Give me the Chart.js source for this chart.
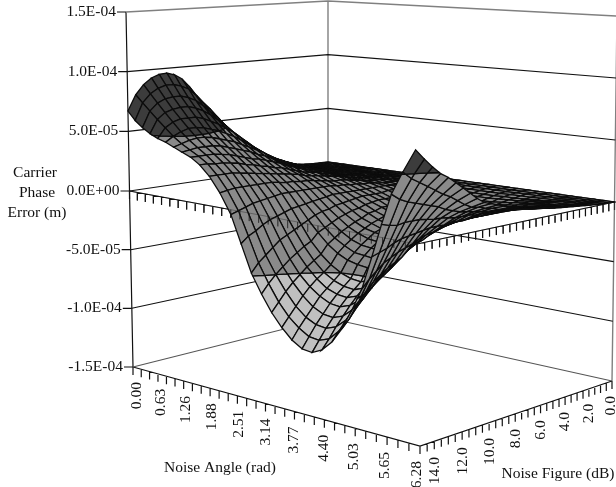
<!DOCTYPE html>
<html>
<head>
<meta charset="utf-8">
<title>Carrier Phase Error</title>
<script src="https://cdn.jsdelivr.net/npm/chart.js@4"></script>
<style>
  html, body { margin: 0; padding: 0; background: #fff; }
  #wrap { width: 616px; height: 487px; }
</style>
</head>
<body>
<div id="wrap"><canvas id="surfaceChart" width="616" height="487"></canvas></div>
<script>
// tick labels
const angleLabels = ['0.00', '0.63', '1.26', '1.88', '2.51', '3.14', '3.77', '4.40', '5.03', '5.65', '6.28'];
const figureLabels = ['0.0', '2.0', '4.0', '6.0', '8.0', '10.0', '12.0', '14.0'];
const errorLabels = ['1.5E-04', '1.0E-04', '5.0E-05', '0.0E+00', '-5.0E-05', '-1.0E-04', '-1.5E-04'];
const errorLevels = [15, 10, 5, 0, -5, -10, -15];

// carrier phase error in units of 1E-05 m
// one row per noise figure step (0 dB first, 14 dB last), 31 values along noise angle
const phaseError = [
  [0,0,0,0,0,0,0,0,0,0,0,0,0,0,0,0,0,0,0,0,0,0,0,0,0,0,0,0,0,0,0],
  [.02,.02,.02,.02,.02,.02,.02,.02,.02,.02,.01,.01,.01,0,-.01,-.02,-.02,-.03,-.03,-.04,-.04,-.04,-.03,-.03,-.02,-.02,-.01,.01,.02,.02,.03],
  [.04,.04,.04,.04,.04,.04,.04,.04,.04,.03,.03,.03,.02,0,-.02,-.03,-.05,-.06,-.08,-.08,-.08,-.08,-.06,-.05,-.05,-.03,-.02,.02,.03,.05,.06],
  [.07,.07,.07,.07,.07,.07,.07,.07,.07,.05,.05,.05,.03,0,-.03,-.05,-.1,-.12,-.15,-.15,-.15,-.15,-.12,-.1,-.1,-.05,-.03,.03,.05,.07,.1],
  [.12,.12,.12,.12,.12,.12,.12,.12,.1,.1,.1,.05,.05,0,-.05,-.1,-.15,-.2,-.25,-.25,-.25,-.25,-.2,-.2,-.15,-.1,-.05,.05,.1,.1,.15],
  [.2,.2,.2,.2,.2,.2,.2,.2,.2,.15,.15,.1,.05,0,-.05,-.15,-.2,-.3,-.35,-.35,-.35,-.35,-.3,-.25,-.2,-.1,-.05,.05,.1,.15,.2],
  [.3,.3,.3,.3,.3,.3,.3,.25,.25,.2,.2,.15,.1,.05,-.05,-.15,-.3,-.4,-.45,-.5,-.5,-.5,-.45,-.35,-.25,-.15,-.05,.05,.1,.2,.26],
  [.4,.4,.4,.4,.4,.4,.35,.35,.3,.3,.25,.2,.1,.05,-.1,-.2,-.35,-.5,-.55,-.6,-.6,-.6,-.55,-.45,-.35,-.2,-.05,.05,.15,.25,.32],
  [.55,.55,.55,.55,.55,.5,.5,.45,.45,.4,.3,.25,.15,.05,-.1,-.25,-.45,-.6,-.7,-.75,-.75,-.75,-.7,-.55,-.4,-.25,-.1,.05,.2,.3,.38],
  [.75,.75,.75,.75,.7,.7,.65,.6,.55,.5,.4,.3,.2,.1,-.1,-.3,-.55,-.75,-.85,-.9,-.9,-.9,-.85,-.7,-.5,-.3,-.1,.1,.2,.35,.45],
  [1,1,1,.95,.9,.9,.85,.8,.7,.6,.5,.4,.3,.1,-.1,-.4,-.7,-.9,-1,-1.1,-1.1,-1.1,-1,-.8,-.6,-.4,-.1,.1,.25,.4,.52],
  [1.3,1.3,1.25,1.2,1.15,1.1,1,.95,.85,.75,.65,.5,.3,.1,-.2,-.5,-.8,-1,-1.2,-1.3,-1.3,-1.3,-1.2,-1,-.7,-.4,-.1,.1,.3,.45,.6],
  [1.6,1.55,1.5,1.45,1.4,1.3,1.2,1.1,1,.9,.8,.6,.4,.1,-.2,-.5,-.7,-.9,-1.1,-1.2,-1.2,-1.2,-1,-.9,-.7,-.4,-.2,.1,.4,.5,.7],
  [1.9,1.85,1.8,1.7,1.6,1.5,1.4,1.3,1.2,1,.9,.7,.4,.1,-.2,-.5,-.9,-1.1,-1.2,-1.3,-1.3,-1.3,-1.2,-1,-.8,-.5,-.2,.2,.4,.6,.8],
  [2.3,2.2,2.1,2,1.9,1.8,1.6,1.5,1.3,1.2,1,.7,.5,.1,-.2,-.6,-.9,-1.2,-1.4,-1.5,-1.5,-1.5,-1.3,-1.1,-.9,-.5,-.2,.2,.5,.7,.9],
  [2.8,2.7,2.5,2.4,2.2,2,1.9,1.7,1.5,1.3,1.1,.8,.5,.1,-.3,-.7,-1.1,-1.4,-1.6,-1.6,-1.7,-1.6,-1.5,-1.2,-.9,-.5,-.2,.2,.5,.8,1],
  [3.4,3.2,3,2.8,2.6,2.4,2.2,1.9,1.7,1.4,1.2,.9,.6,.1,-.4,-.9,-1.2,-1.6,-1.8,-1.9,-1.9,-1.9,-1.6,-1.4,-1,-.5,-.2,.3,.6,.9,1.15],
  [4.2,4,3.7,3.4,3.1,2.8,2.5,2.2,1.9,1.6,1.3,1,.6,.1,-.5,-1,-1.5,-1.8,-2.1,-2.2,-2.2,-2.2,-1.9,-1.6,-1.1,-.6,-.2,.3,.7,1,1.3],
  [5,4.7,4.3,3.9,3.6,3.2,2.9,2.5,2.2,1.8,1.5,1.1,.6,0,-.6,-1.2,-1.7,-2.1,-2.3,-2.4,-2.5,-2.4,-2.2,-1.8,-1.3,-.7,-.2,.4,.8,1.2,1.5],
  [5.9,5.5,5,4.5,4.1,3.6,3.2,2.8,2.4,2,1.6,1.1,.6,-.1,-.8,-1.4,-2,-2.4,-2.7,-2.8,-2.9,-2.7,-2.5,-2.1,-1.5,-.8,-.2,.4,.9,1.3,1.7],
  [6.8,6.3,5.7,5.1,4.6,4,3.5,3,2.6,2.1,1.7,1.2,.6,-.2,-.9,-1.7,-2.3,-2.8,-3.1,-3.2,-3.3,-3.1,-2.9,-2.4,-1.8,-1,-.3,.4,1,1.5,1.9],
  [7.5,6.9,6.2,5.6,5,4.4,3.8,3.3,2.8,2.3,1.8,1.2,.6,-.3,-1.1,-2,-2.7,-3.2,-3.6,-3.7,-3.8,-3.7,-3.3,-2.8,-2,-1.1,-.3,.5,1.1,1.6,2.1],
  [8.3,7.6,6.8,6.1,5.4,4.7,4.1,3.5,2.9,2.4,1.9,1.3,.6,-.4,-1.4,-2.3,-3.1,-3.7,-4.1,-4.3,-4.4,-4.2,-3.8,-3.2,-2.3,-1.3,-.3,.6,1.3,1.9,2.5],
  [9,8.2,7.3,6.5,5.7,5,4.3,3.7,3.1,2.6,2,1.4,.6,-.5,-1.7,-2.9,-3.8,-4.5,-5,-5.3,-5.4,-5.1,-4.6,-3.8,-2.8,-1.6,-.4,.6,1.5,2.3,3],
  [9.4,8.5,7.6,6.8,6,5.2,4.5,3.9,3.3,2.7,2.1,1.4,.5,-.7,-2,-3.2,-4.2,-5,-5.5,-5.8,-5.9,-5.6,-5,-4.2,-3.1,-1.8,-.5,.7,1.8,2.7,3.5],
  [9.6,8.7,7.8,7,6.2,5.4,4.7,4.1,3.5,2.9,2.2,1.4,.4,-.9,-2.3,-3.6,-4.6,-5.4,-6,-6.3,-6.4,-6.1,-5.5,-4.6,-3.4,-2,-.6,.8,2,3,4],
  [9.55,8.7,7.8,7,6.2,5.5,4.8,4.2,3.6,3,2.3,1.4,.3,-1.1,-2.6,-4,-5.1,-5.9,-6.5,-6.9,-7,-6.7,-6.1,-5.1,-3.8,-2.3,-.7,.8,2.2,3.4,4.5],
  [9.3,8.5,7.7,6.9,6.2,5.5,4.8,4.2,3.7,3.1,2.4,1.4,.2,-1.4,-3.1,-4.5,-5.6,-6.5,-7.2,-7.6,-7.7,-7.4,-6.7,-5.7,-4.2,-2.6,-.9,.8,2.4,3.8,4.9],
  [8.8,8.1,7.4,6.7,6,5.3,4.7,4.2,3.7,3.1,2.4,1.4,0,-1.8,-3.6,-5,-6.2,-7.2,-7.9,-8.3,-8.4,-8.1,-7.4,-6.3,-4.8,-3.1,-1.2,.7,2.6,4.2,5.5],
  [8,7.4,6.8,6.2,5.6,5,4.5,4.1,3.7,3.2,2.4,1.3,-.2,-2.1,-4.1,-5.6,-6.9,-7.9,-8.6,-9.1,-9.2,-8.9,-8.1,-7,-5.4,-3.6,-1.4,.8,2.9,4.6,6.2],
  [6.7,6,5.5,5.1,4.8,4.6,4.3,4,3.7,3.2,2.4,1.2,-.4,-2.6,-4.8,-6.3,-7.6,-8.6,-9.4,-9.9,-10,-9.6,-8.8,-7.6,-6,-4.2,-1.6,1,3.4,5.2,7]
];

// band limits of the surface shading, 1E-05 m
const bandLimits = [-1000, -5, 5, 1000];
const bandColors = ['#c0c0c0', '#8a8a8a', '#3c3c3c'];

// unit square to quad, corners are (angle 0, 14 dB), (6.28, 14 dB), (6.28, 0 dB), (0, 0 dB)
function makeFace(q) {
    const [x0, y0] = q[0], [x1, y1] = q[1], [x2, y2] = q[2], [x3, y3] = q[3];
    const dx1 = x1 - x2, dx2 = x3 - x2, sx = x0 - x1 + x2 - x3;
    const dy1 = y1 - y2, dy2 = y3 - y2, sy = y0 - y1 + y2 - y3;
    const den = dx1 * dy2 - dx2 * dy1;
    const g = (sx * dy2 - dx2 * sy) / den;
    const h = (dx1 * sy - sx * dy1) / den;
    return function(u, v) {
        const w = g * u + h * v + 1;
        return [
            ((x1 - x0 + g * x1) * u + (x3 - x0 + h * x3) * v + x0) / w,
            ((y1 - y0 + g * y1) * u + (y3 - y0 + h * y3) * v + y0) / w
        ];
    };
}

const floorFace = makeFace([[133, 367], [420, 446], [612, 381], [328, 318]]);
const zeroFace = makeFace([[129.5, 191], [417, 244], [614.5, 202], [328, 162]]);
const roofFace = makeFace([[126, 12], [414, 42], [617, 16], [328, 1]]);

// angle and back are 0..1, value in 1E-05 m
function project(angle, back, value) {
    const a = value < 0 ? floorFace(angle, back) : zeroFace(angle, back);
    const b = value < 0 ? zeroFace(angle, back) : roofFace(angle, back);
    const w = value < 0 ? (value + 15) / 15 : value / 15;
    return { x: a[0] + (b[0] - a[0]) * w, y: a[1] + (b[1] - a[1]) * w };
}

function lineSet(data, color, width) {
    return {
        data: data,
        showLine: true,
        fill: false,
        borderColor: color,
        borderWidth: width,
        pointRadius: 0,
        tension: 0
    };
}

// keep the part of a cell polygon on one side of a level
function clipLevel(poly, level, keepAbove) {
    const out = [];
    for (let k = 0; k < poly.length; k++) {
        const p = poly[k], q = poly[(k + 1) % poly.length];
        const pIn = keepAbove ? p.z >= level : p.z <= level;
        const qIn = keepAbove ? q.z >= level : q.z <= level;
        if (pIn) out.push(p);
        if (pIn !== qIn) {
            const t = (level - p.z) / (q.z - p.z);
            out.push({ a: p.a + (q.a - p.a) * t, b: p.b + (q.b - p.b) * t, z: level });
        }
    }
    return out;
}

const gap = { x: NaN, y: NaN };
const steps = phaseError.length - 1;
const behind = [];   // walls, floor, ticks
const front = [];    // what shows through the surface

// back walls
errorLevels.forEach(level => {
    const color = level === 15 ? '#808080' : (level === -15 ? '#555555' : '#111111');
    behind.push(lineSet([project(0, 0, level), project(0, 1, level), project(1, 1, level)], color, level === 15 ? 1.4 : 1.1));
});
behind.push(lineSet([project(0, 0, 15), project(0, 0, 0), project(0, 0, -15)], '#111111', 1.2));
behind.push(lineSet([project(0, 1, 15), project(0, 1, 0), project(0, 1, -15)], '#808080', 1.4));
behind.push(lineSet([project(1, 1, 15), project(1, 1, 0), project(1, 1, -15)], '#808080', 1.4));

// ticks on the value axis
const valueTicks = [];
errorLevels.forEach(level => {
    const p = project(0, 0, level);
    valueTicks.push({ x: p.x - 9, y: p.y }, p, gap);
});
behind.push(lineSet(valueTicks, '#111111', 1.1));

// floor front edges and the zero plane edges with their ticks
function edgeWithTicks(value, tickLen) {
    const pts = [project(0, 0, value), project(1, 0, value), project(1, 1, value), gap];
    for (let k = 0; k <= steps; k++) {
        const p = project(k / steps, 0, value);
        pts.push(p, { x: p.x, y: p.y + tickLen }, gap);
        const q = project(1, k / steps, value);
        pts.push(q, { x: q.x, y: q.y + tickLen }, gap);
    }
    return pts;
}
behind.push(lineSet(edgeWithTicks(-15, 8), '#111111', 1.2));
behind.push(lineSet(edgeWithTicks(0, 8), '#111111', 1.2));
front.push(lineSet(edgeWithTicks(0, 8), 'rgba(20,20,20,0.35)', 1));

// surface cells, far corner first
const cells = [];
for (let i = 0; i < steps; i++) {
    for (let n = 0; n < steps; n++) {
        const corner = (ci, cn) => ({ a: ci / steps, b: 1 - cn / steps, z: phaseError[cn][ci] });
        const quad = [corner(i, n), corner(i + 1, n), corner(i + 1, n + 1), corner(i, n + 1)];
        bandColors.forEach((color, band) => {
            let poly = clipLevel(quad, bandLimits[band], true);
            if (poly.length) poly = clipLevel(poly, bandLimits[band + 1], false);
            if (poly.length < 3) return;
            const data = poly.map(p => project(p.a, p.b, p.z));
            data.push(data[0]);
            const set = lineSet(data, '#0c0c0c', 1.3);
            set.fill = 'shape';
            set.backgroundColor = color;
            cells.push(set);
        });
    }
}

const allSets = front.concat(cells.slice().reverse(), behind);

// axis texts
const textPlugin = {
    id: 'axisTexts',
    afterDatasetsDraw(chart) {
        const ctx = chart.ctx;
        const sx = chart.scales.x, sy = chart.scales.y;
        ctx.save();
        ctx.fillStyle = '#111';
        ctx.font = '15.5px "Liberation Serif", serif';

        ctx.textAlign = 'right';
        ctx.textBaseline = 'middle';
        errorLabels.forEach((label, k) => {
            const p = project(0, 0, errorLevels[k]);
            ctx.fillText(label, sx.getPixelForValue(p.x) - 10, sy.getPixelForValue(p.y));
        });

        angleLabels.forEach((label, k) => {
            const u = k / (angleLabels.length - 1);
            const p = project(u, 0, -15);
            ctx.save();
            ctx.translate(sx.getPixelForValue(p.x) + 4 - 7 * u, sy.getPixelForValue(p.y) + 15);
            ctx.rotate(-Math.PI / 2);
            ctx.fillText(label, 0, 0);
            ctx.restore();
        });

        figureLabels.forEach((label, k) => {
            const back = 1 - k / (figureLabels.length - 1);
            const p = project(1, back, -15);
            ctx.save();
            ctx.translate(sx.getPixelForValue(p.x) + 15 - 16 * back, sy.getPixelForValue(p.y) + 11 + 4 * back);
            ctx.rotate(-Math.PI / 2);
            ctx.fillText(label, 0, 0);
            ctx.restore();
        });

        ctx.textAlign = 'center';
        ctx.fillText('Carrier', 35, 173);
        ctx.fillText('Phase', 37, 193);
        ctx.fillText('Error (m)', 37, 213);
        ctx.fillText('Noise Angle (rad)', 220, 468);
        ctx.fillText('Noise Figure (dB)', 558, 474);
        ctx.restore();
    }
};

new Chart(document.getElementById('surfaceChart').getContext('2d'), {
    type: 'scatter',
    data: { datasets: allSets },
    options: {
        responsive: false,
        animation: false,
        events: [],
        layout: { padding: 0 },
        plugins: {
            legend: { display: false },
            tooltip: { enabled: false },
            title: { display: false }
        },
        scales: {
            x: { type: 'linear', min: 0, max: 616, display: false },
            y: { type: 'linear', min: 0, max: 487, reverse: true, display: false }
        }
    },
    plugins: [textPlugin]
});
</script>
</body>
</html>
